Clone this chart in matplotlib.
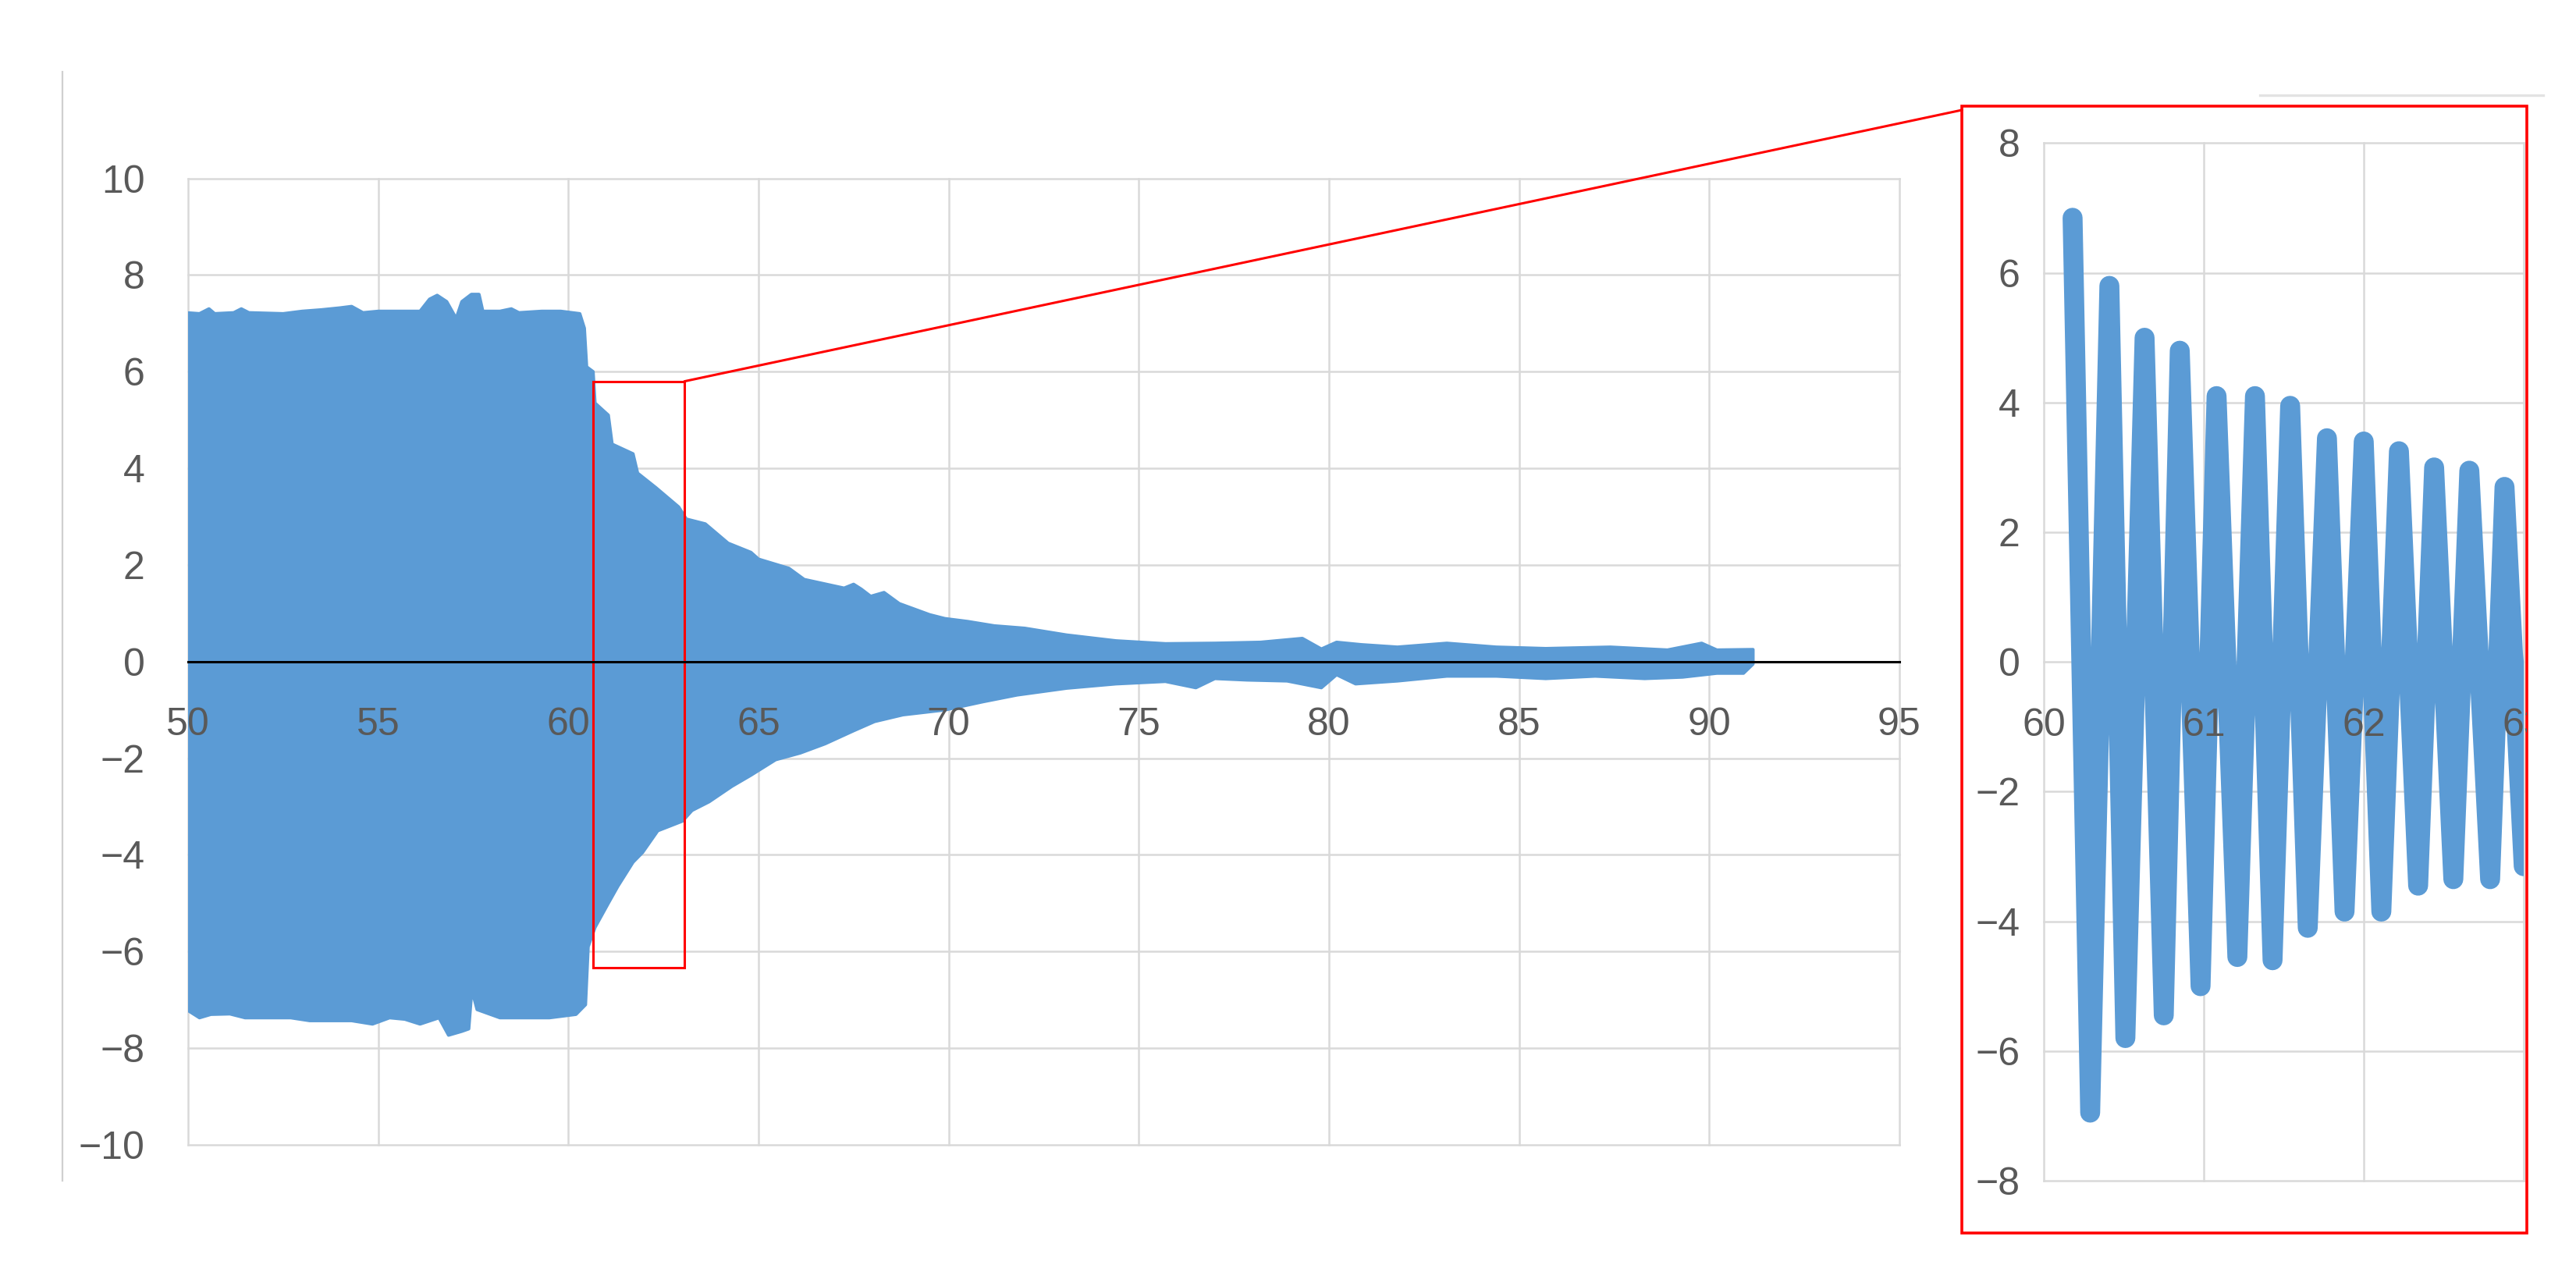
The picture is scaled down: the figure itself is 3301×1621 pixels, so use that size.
import matplotlib.pyplot as plt
from matplotlib.patches import Rectangle, ConnectionPatch
from matplotlib.lines import Line2D
from matplotlib.transforms import Bbox, TransformedBbox

plt.rcParams['font.family'] = ['Liberation Sans', 'DejaVu Sans']

# main chart: outer edge of the dense marker band
upper_x = [49.88, 49.95, 50.3, 50.55, 50.7, 51.2, 51.4, 51.6, 52.5, 53.0, 53.5, 54.0,
           54.3, 54.6, 55.0, 55.5, 56.1, 56.35, 56.55, 56.8, 57.05, 57.2, 57.45, 57.65,
           57.75, 58.2, 58.5, 58.7, 59.3, 59.8, 60.3, 60.42, 60.48, 60.65, 60.7, 61.05,
           61.15, 61.7, 61.82, 62.3, 62.9, 63.1, 63.6, 64.2, 64.8, 65.0, 65.8, 66.2,
           67.25, 67.5, 67.7, 67.95, 68.3, 68.7, 69.5, 69.9, 70.5, 71.2, 72.0, 73.1,
           74.4, 75.7, 77.0, 78.2, 79.3, 79.8, 80.2, 80.85, 81.8, 83.1, 84.4, 85.7,
           87.4, 88.9, 89.8, 90.2, 91.15]
upper_y = [7.05, 7.22, 7.2, 7.3, 7.2, 7.22, 7.3, 7.22, 7.2, 7.25, 7.28, 7.32,
           7.35, 7.22, 7.25, 7.25, 7.25, 7.5, 7.58, 7.45, 7.1, 7.45, 7.6, 7.6,
           7.25, 7.25, 7.3, 7.22, 7.25, 7.25, 7.2, 6.9, 6.1, 6.0, 5.35, 5.1,
           4.5, 4.3, 3.9, 3.6, 3.2, 2.95, 2.85, 2.45, 2.26, 2.12, 1.93, 1.7,
           1.52, 1.6, 1.5, 1.35, 1.43, 1.2, 0.97, 0.89, 0.83, 0.74, 0.69, 0.55,
           0.43, 0.37, 0.38, 0.40, 0.48, 0.26, 0.40, 0.35, 0.30, 0.38, 0.30, 0.27,
           0.30, 0.24, 0.38, 0.24, 0.25]
lower_x = [49.88, 49.96, 50.3, 50.6, 51.1, 51.5, 52.7, 53.2, 54.3, 54.85, 55.3, 55.7,
           56.1, 56.6, 56.85, 57.2, 57.38, 57.45, 57.5, 57.6, 58.2, 59.5, 60.2, 60.45,
           60.52, 60.7, 61.05, 61.3, 61.7, 61.95, 62.35, 63.0, 63.25, 63.7, 64.3, 64.8,
           65.45, 66.1, 66.75, 67.5, 68.05, 68.8, 69.9, 70.9, 71.8, 73.1, 74.4, 75.7,
           76.5, 77.0, 77.85, 78.9, 79.8, 80.2, 80.7, 81.8, 83.1, 84.4, 85.7, 87.0,
           88.3, 89.3, 90.2, 90.9, 91.15]
lower_y = [-7.0, -7.2, -7.37, -7.3, -7.29, -7.37, -7.37, -7.43, -7.43, -7.5, -7.37, -7.4,
           -7.5, -7.37, -7.73, -7.65, -7.6, -6.9, -6.9, -7.2, -7.37, -7.37, -7.3, -7.1,
           -5.9, -5.5, -5.0, -4.65, -4.15, -3.95, -3.5, -3.3, -3.08, -2.9, -2.58, -2.35,
           -2.03, -1.89, -1.7, -1.43, -1.24, -1.1, -1.0, -0.83, -0.69, -0.55, -0.46, -0.41,
           -0.54, -0.35, -0.38, -0.40, -0.54, -0.27, -0.46, -0.40, -0.30, -0.30, -0.35, -0.30,
           -0.35, -0.32, -0.24, -0.24, -0.05]

# zoomed window 60-63: successive peaks and troughs
zoom_t = [60.18, 60.29, 60.41, 60.51, 60.63, 60.75, 60.85, 60.98, 61.08, 61.21, 61.32,
          61.43, 61.54, 61.65, 61.77, 61.88, 62.00, 62.11, 62.22, 62.34, 62.44, 62.56,
          62.66, 62.79, 62.88, 63.00, 63.11]
zoom_v = [6.85, -6.95, 5.8, -5.8, 5.0, -5.45, 4.8, -5.0, 4.1, -4.55, 4.1,
          -4.6, 3.95, -4.1, 3.45, -3.85, 3.4, -3.85, 3.25, -3.45, 3.0, -3.35,
          2.95, -3.35, 2.7, -3.15, 2.65]

main_xticks = [50, 55, 60, 65, 70, 75, 80, 85, 90, 95]
main_yticks = [-10, -8, -6, -4, -2, 0, 2, 4, 6, 8, 10]
zoom_xticks = [60, 61, 62, 63]
zoom_yticks = [-8, -6, -4, -2, 0, 2, 4, 6, 8]

# zoom box drawn on the main chart
box_x = (60.65, 63.05)
box_y = (-6.33, 5.8)

BLUE = '#5B9BD5'
GRID = '#D9D9D9'
LABEL = '#595959'
RED = '#FF0000'
W, H = 3301, 1621

fig = plt.figure(figsize=(W / 200, H / 200), dpi=200)


def make_axes(pos, xlim, ylim, xticks, yticks, ypad):
    ax = fig.add_axes(pos)
    ax.set_xlim(*xlim)
    ax.set_ylim(*ylim)
    ax.set_xticks(xticks)
    ax.set_yticks(yticks)
    ax.set_axisbelow(True)
    ax.grid(True, color=GRID, lw=0.9)
    for s in ax.spines.values():
        s.set_visible(False)
    ax.tick_params(length=0, labelbottom=False, labelsize=18, labelcolor=LABEL)
    ax.tick_params(axis='y', pad=ypad)
    for gl in ax.get_xgridlines() + ax.get_ygridlines():
        gl.set_clip_on(False)
    # overlay that carries the x labels on top of the data
    lab = fig.add_axes(pos, sharex=ax, sharey=ax)
    lab.patch.set_visible(False)
    lab.grid(False)
    for s in lab.spines.values():
        s.set_visible(False)
    lab.spines['bottom'].set_position(('data', 0))
    lab.tick_params(length=0, labelleft=False, labelbottom=True, labelsize=18,
                    labelcolor=LABEL, pad=21)
    lab.set_zorder(ax.get_zorder() + 1)
    return ax, lab


# main chart
ax, ax_lab = make_axes([241 / W, 1 - 1467 / H, (2434 - 241) / W, (1467 - 228.6) / H],
                       (50, 95), (-10, 10), main_xticks, main_yticks, 20)
ax.fill(upper_x + lower_x[::-1], upper_y + lower_y[::-1], color=BLUE, lw=1.5,
        joinstyle='round', zorder=2)
ax_lab.spines['bottom'].set_visible(True)
ax_lab.spines['bottom'].set_color('black')
ax_lab.spines['bottom'].set_linewidth(1.1)
ax.add_patch(Rectangle((box_x[0], box_y[0]), box_x[1] - box_x[0], box_y[1] - box_y[0],
                       fill=False, ec=RED, lw=1.1, zorder=3))

# zoomed chart
ax_in, ax_in_lab = make_axes([2619 / W, 1 - 1513 / H, (3234 - 2619) / W, (1513 - 183.5) / H],
                             (60, 63), (-8, 8), zoom_xticks, zoom_yticks, 11)
ax_in.plot(zoom_t, zoom_v, color=BLUE, lw=9.2, solid_joinstyle='round',
           solid_capstyle='round', zorder=2)

# frame of the zoomed chart, and the label cut by it
frame = (2514 / W, 1 - 1580 / H, 3238 / W, 1 - 136 / H)
fig.add_artist(Rectangle((frame[0], frame[1]), frame[2] - frame[0], frame[3] - frame[1],
                         transform=fig.transFigure, fill=False, ec=RED, lw=1.3))
clip = TransformedBbox(Bbox([[frame[0], frame[1]], [frame[2], frame[3]]]), fig.transFigure)
for t in ax_in_lab.get_xticklabels():
    t.set_clip_box(clip)
    t.set_clip_on(True)

con = ConnectionPatch(xyA=(box_x[1], box_y[1]), coordsA=ax.transData,
                      xyB=(frame[0], 1 - 141 / H), coordsB=fig.transFigure,
                      color=RED, lw=1.1)
fig.add_artist(con)

# screenshot edges
fig.add_artist(Line2D([80 / W, 80 / W], [1 - 92 / H, 1 - 1513 / H],
                      transform=fig.transFigure, color='#D0D0D0', lw=0.8))
fig.add_artist(Line2D([2896 / W, 3259 / W], [1 - 122 / H, 1 - 122 / H],
                      transform=fig.transFigure, color='#E3E3E3', lw=1.2))

fig.savefig('out.png', dpi=200)
